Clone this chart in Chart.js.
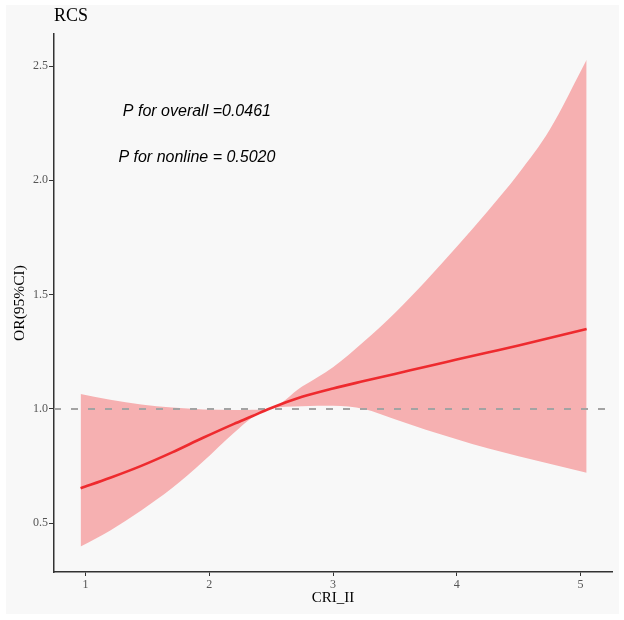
<!DOCTYPE html>
<html>
<head>
<meta charset="utf-8">
<script src="https://cdn.jsdelivr.net/npm/chart.js@4/dist/chart.umd.min.js"></script>
<style>
  html, body { margin: 0; padding: 0; background: #ffffff; }
  #panel { position: absolute; left: 6px; top: 5px; width: 613px; height: 609px; background: #f8f8f8; }
  canvas { display: block; }
</style>
</head>
<body>
<div id="panel"><canvas id="c" width="613" height="609"></canvas></div>
<script>
// ---- data ----
const xValues = [0.96, 1.2, 1.45, 1.7, 1.95, 2.2, 2.35, 2.48, 2.75, 3.0, 3.25, 3.5, 3.75, 4.0, 4.25, 4.5, 4.75, 5.05];
const orValues = [0.653, 0.699, 0.751, 0.81, 0.874, 0.935, 0.969, 1.0, 1.053, 1.09, 1.122, 1.153, 1.185, 1.216, 1.247, 1.278, 1.31, 1.35];
const upperCI = [1.066, 1.04, 1.02, 1.006, 0.998, 0.996, 0.997, 1.0, 1.098, 1.183, 1.295, 1.42, 1.56, 1.71, 1.865, 2.03, 2.22, 2.527];
const lowerCI = [0.398, 0.469, 0.556, 0.654, 0.77, 0.896, 0.964, 1.0, 1.012, 1.014, 1.0, 0.955, 0.909, 0.868, 0.828, 0.793, 0.76, 0.721];
const refValue = 1.0;
const xTickValues = [1, 2, 3, 4, 5];
const yTickValues = [0.5, 1.0, 1.5, 2.0, 2.5];
const annotations = [
  { x: 1.9, y: 2.3, text: 'P for overall =0.0461' },
  { x: 1.9, y: 2.1, text: 'P for nonline = 0.5020' }
];

const X_MIN = 0.745, X_MAX = 5.255, Y_MIN = 0.287, Y_MAX = 2.64;

const toPts = (ys) => xValues.map((x, i) => ({ x: x, y: ys[i] }));

const textPlugin = {
  id: 'pText',
  afterDatasetsDraw(chart) {
    const { ctx, scales } = chart;
    ctx.save();
    ctx.font = 'italic 16px "Liberation Sans", Arial, sans-serif';
    ctx.fillStyle = '#000';
    ctx.textAlign = 'center';
    ctx.textBaseline = 'middle';
    annotations.forEach(a => {
      ctx.fillText(a.text, scales.x.getPixelForValue(a.x), scales.y.getPixelForValue(a.y));
    });
    ctx.restore();
  }
};

new Chart(document.getElementById('c'), {
  type: 'line',
  data: {
    datasets: [
      {
        label: 'upper',
        data: toPts(upperCI),
        borderWidth: 0,
        borderColor: 'rgba(0,0,0,0)',
        backgroundColor: '#f6b0b1',
        pointRadius: 0,
        fill: '+1',
        cubicInterpolationMode: 'monotone',
        order: 3
      },
      {
        label: 'lower',
        data: toPts(lowerCI),
        borderWidth: 0,
        borderColor: 'rgba(0,0,0,0)',
        pointRadius: 0,
        fill: false,
        cubicInterpolationMode: 'monotone',
        order: 4
      },
      {
        label: 'ref',
        data: [{ x: X_MIN, y: refValue }, { x: X_MAX, y: refValue }],
        borderColor: '#a3a3a3',
        borderWidth: 1.8,
        borderDash: [7, 10],
        pointRadius: 0,
        fill: false,
        order: 1
      },
      {
        label: 'OR',
        data: toPts(orValues),
        borderColor: '#ee2a2e',
        borderWidth: 2.6,
        pointRadius: 0,
        fill: false,
        cubicInterpolationMode: 'monotone',
        order: 0
      }
    ]
  },
  options: {
    responsive: false,
    animation: false,
    events: [],
    layout: { padding: { left: 0, right: 7, top: 0, bottom: 0 } },
    plugins: {
      legend: { display: false },
      tooltip: { enabled: false },
      title: {
        display: true,
        text: 'RCS',
        align: 'start',
        fullSize: false,
        color: '#000',
        font: { family: '"Liberation Serif", "Times New Roman", serif', size: 18, weight: 'normal' },
        padding: { top: 0, bottom: 7.4 }
      }
    },
    scales: {
      x: {
        type: 'linear',
        min: X_MIN,
        max: X_MAX,
        afterBuildTicks: (s) => { s.ticks = xTickValues.map(v => ({ value: v })); },
        afterFit: (s) => { s.height = 42; },
        ticks: {
          color: '#555',
          padding: 2,
          font: { family: '"Liberation Serif", "Times New Roman", serif', size: 12 },
          callback: (v) => String(v)
        },
        grid: { drawOnChartArea: false, drawTicks: true, tickLength: 4, color: '#333', lineWidth: 1 },
        border: { display: true, color: '#333', width: 1.5 },
        title: {
          display: true,
          text: 'CRI_II',
          color: '#000',
          font: { family: '"Liberation Serif", "Times New Roman", serif', size: 15 },
          padding: { top: 0, bottom: 7 }
        }
      },
      y: {
        type: 'linear',
        min: Y_MIN,
        max: Y_MAX,
        afterBuildTicks: (s) => { s.ticks = yTickValues.map(v => ({ value: v })); },
        afterFit: (s) => { s.width = 48; },
        ticks: {
          color: '#555',
          padding: 1,
          font: { family: '"Liberation Serif", "Times New Roman", serif', size: 12 },
          callback: (v) => Number(v).toFixed(1)
        },
        grid: { drawOnChartArea: false, drawTicks: true, tickLength: 5, color: '#333', lineWidth: 1 },
        border: { display: true, color: '#333', width: 1.5 },
        title: {
          display: true,
          text: 'OR(95%CI)',
          color: '#000',
          font: { family: '"Liberation Serif", "Times New Roman", serif', size: 15.5 },
          padding: { top: 5, bottom: 0 }
        }
      }
    }
  },
  plugins: [textPlugin]
});
</script>
</body>
</html>
